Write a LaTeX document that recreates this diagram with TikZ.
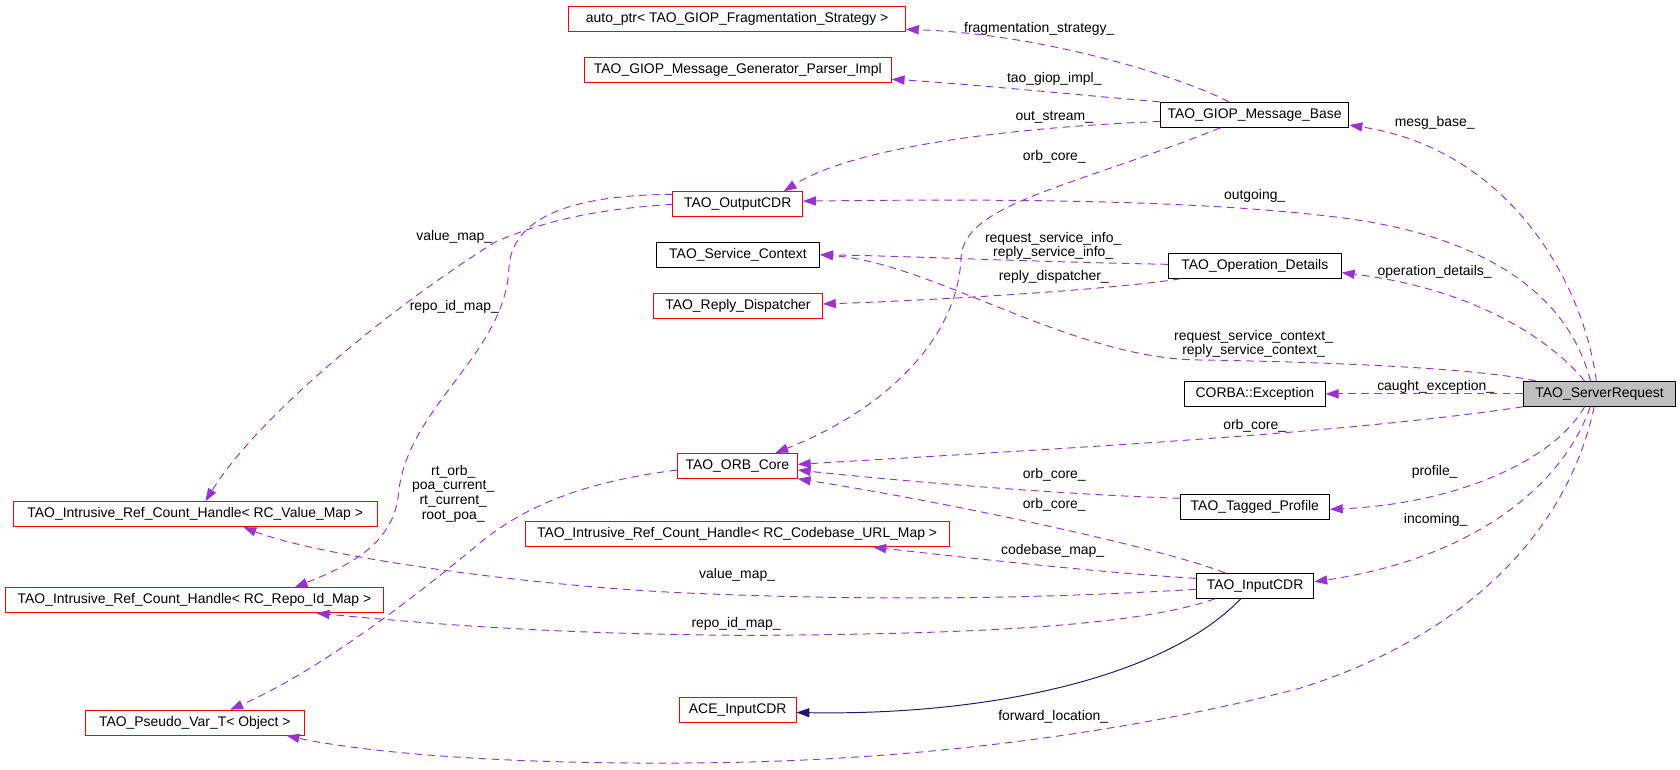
\documentclass[tikz,border=0pt]{standalone}
\usepackage{fontspec}
\setmainfont{Liberation Sans}
\usetikzlibrary{arrows.meta,positioning}

\definecolor{edgeuse}{HTML}{9A32CD}
\definecolor{edgeinh}{HTML}{191970}
\definecolor{fillcur}{HTML}{BFBFBF}

\tikzset{
  cls/.style={draw=black, line width=0.9pt, inner xsep=4pt, minimum height=23.3pt, font=\fontsize{13}{13.7}\selectfont},
  clsred/.style={cls, draw=red},
  clscur/.style={cls, fill=fillcur},
  uses/.style={draw=edgeuse, line width=0.9pt, dash pattern=on 7pt off 5pt, -{Triangle[length=12pt,width=8.5pt]}},
  inherit/.style={draw=edgeinh, line width=0.9pt, -{Triangle[length=12pt,width=8.5pt]}},
  lbl/.style={font=\fontsize{13}{13.7}\selectfont, align=center, inner sep=0pt},
}

\begin{document}
\begin{tikzpicture}[x=1pt,y=-1pt]
            \useasboundingbox (0,0) rectangle (1568,718);
            %Nodes
            \node[clsred, minimum width=314pt]   at (688,17.6)     (frag)  {auto\_ptr< TAO\_GIOP\_Fragmentation\_Strategy >};
            \node[clsred, minimum width=286.4pt] at (688.6,65.5)   (genp)  {TAO\_GIOP\_Message\_Generator\_Parser\_Impl};
            \node[cls,    minimum width=176pt]   at (1171,107.2)   (mbase) {TAO\_GIOP\_Message\_Base};
            \node[clsred, minimum width=121pt]   at (688.5,190.7)  (ocdr)  {TAO\_OutputCDR};
            \node[cls,    minimum width=152.4pt] at (688.8,237.8)  (sctx)  {TAO\_Service\_Context};
            \node[cls,    minimum width=161.3pt] at (1171.2,248.1) (opdet) {TAO\_Operation\_Details};
            \node[clsred, minimum width=157.6pt] at (688.8,285.4)  (rdisp) {TAO\_Reply\_Dispatcher};
            \node[cls,    minimum width=131.3pt] at (1171.2,367.6) (cexc)  {CORBA::Exception};
            \node[clscur, minimum width=142.1pt] at (1492.9,367.6) (sreq)  {TAO\_ServerRequest};
            \node[clsred, minimum width=111.9pt] at (688.2,434.8)  (orbc)  {TAO\_ORB\_Core};
            \node[cls,    minimum width=139.1pt] at (1171.2,473)   (tprof) {TAO\_Tagged\_Profile};
            \node[clsred, minimum width=339.5pt] at (182.2,479.9)  (hval)  {TAO\_Intrusive\_Ref\_Count\_Handle< RC\_Value\_Map >};
            \node[clsred, minimum width=396pt]   at (688,498.6)    (hurl)  {TAO\_Intrusive\_Ref\_Count\_Handle< RC\_Codebase\_URL\_Map >};
            \node[cls,    minimum width=109.8pt] at (1171.4,546.8) (icdr)  {TAO\_InputCDR};
            \node[clsred, minimum width=353pt]   at (181.5,560.3)  (hrepo) {TAO\_Intrusive\_Ref\_Count\_Handle< RC\_Repo\_Id\_Map >};
            \node[clsred, minimum width=109pt]   at (688.5,662.7)  (aicdr) {ACE\_InputCDR};
            \node[clsred, minimum width=204.4pt] at (181.8,674.5)  (pvar)  {TAO\_Pseudo\_Var\_T< Object >};

            %Labels
            \node[lbl] at (970,27)     (lfrag)  {fragmentation\_strategy\_};
            \node[lbl] at (984,74)     (lgenp)  {tao\_giop\_impl\_};
            \node[lbl] at (984,109.5)  (lout)   {out\_stream\_};
            \node[lbl] at (984,146)    (lorb1)  {orb\_core\_};
            \node[lbl] at (1339,115)   (lmesg)  {mesg\_base\_};
            \node[lbl] at (1171,183)   (logo)   {outgoing\_};
            \node[lbl] at (983,229.5)  (lsinfo) {request\_service\_info\_\\reply\_service\_info\_};
            \node[lbl] at (983.5,258.5) (lrdisp) {reply\_dispatcher\_};
            \node[lbl] at (1339,254)   (lopdet) {operation\_details\_};
            \node[lbl] at (1170,321)   (lsctx)  {request\_service\_context\_\\reply\_service\_context\_};
            \node[lbl] at (1340,361)   (lexc)   {caught\_exception\_};
            \node[lbl] at (1171,397)   (lorb2)  {orb\_core\_};
            \node[lbl] at (984,443)    (lorb3)  {orb\_core\_};
            \node[lbl] at (984,471)    (lorb4)  {orb\_core\_};
            \node[lbl] at (1339,440)   (lprof)  {profile\_};
            \node[lbl] at (982.5,514)  (lurl)   {codebase\_map\_};
            \node[lbl] at (1340,485)   (linc)   {incoming\_};
            \node[lbl] at (688,537)    (lval1)  {value\_map\_};
            \node[lbl] at (687,582)    (lrepo1) {repo\_id\_map\_};
            \node[lbl] at (983,669)    (lfwd)   {forward\_location\_};
            \node[lbl] at (423,460.8)  (lpoa)   {rt\_orb\_\\poa\_current\_\\rt\_current\_\\root\_poa\_};
            \node[lbl] at (424,221)    (lval2)  {value\_map\_};
            \node[lbl] at (424,286)    (lrepo2) {repo\_id\_map\_};

            %Lines
            \draw[uses] ([xshift=-24pt]mbase.north) .. controls (1110,75) and (980,32) .. ([yshift=-9.8pt]frag.east);
            \draw[uses] (mbase.north west) .. controls (1000,88) and (900,78) .. ([yshift=-8.5pt]genp.east);
            \draw[uses] ([yshift=-6.2pt]mbase.west) .. controls (960,118) and (800,135) .. ([xshift=43pt]ocdr.north);
            \draw[uses] ([xshift=-32pt]mbase.south) .. controls (1000,175) and (900,190) .. (897,240)
                        .. controls (894,320) and (820,385) .. ([xshift=-21pt]orbc.north east);
            \draw[uses] ([xshift=-3pt]sreq.north) .. controls (1478,265) and (1410,140) .. ([yshift=-9.5pt]mbase.east);
            \draw[uses] ([xshift=-8.5pt]sreq.north) .. controls (1460,260) and (1360,215) .. (1242,202)
                        .. controls (1100,185) and (900,186) .. ([yshift=3pt]ocdr.east);
            \draw[uses] ([yshift=1.4pt]opdet.west) .. controls (950,244) and (850,239) .. (sctx.east);
            \draw[uses] ([xshift=-69.5pt]opdet.south) .. controls (1040,270) and (880,280) .. ([yshift=1.7pt]rdisp.east);
            \draw[uses] ([xshift=-14pt]sreq.north) .. controls (1450,320) and (1380,270) .. ([yshift=-6.4pt]opdet.east);
            \draw[uses] ([xshift=12pt]sreq.north west) .. controls (1380,344) and (1250,338) .. (1120,336)
                        .. controls (1000,335) and (870,245) .. (sctx.east);
            \draw[uses] (sreq.west) -- (cexc.east);
            \draw[uses] (sreq.south west) .. controls (1250,405) and (1000,418) .. ([yshift=1.4pt]orbc.east);
            \draw[uses] ([yshift=8pt]tprof.west) .. controls (1000,462) and (850,450) .. ([yshift=-3.9pt]orbc.east);
            \draw[uses] ([xshift=-28pt]icdr.north) .. controls (1080,510) and (880,468) .. (orbc.south east);
            \draw[uses] ([xshift=-14pt]sreq.south) .. controls (1450,430) and (1360,470) .. ([yshift=-2.4pt]tprof.east);
            \draw[uses] ([yshift=7pt]icdr.west) .. controls (1020,534) and (880,518) .. ([xshift=127pt]hurl.south);
            \draw[uses] ([xshift=-8.7pt]sreq.south) .. controls (1460,450) and (1380,520) .. ([yshift=3.8pt]icdr.east);
            \draw[uses] ([yshift=-3.2pt]icdr.west) .. controls (950,560) and (800,560) .. (653,554)
                        .. controls (500,548) and (300,520) .. ([xshift=45pt]hval.south);
            \draw[uses] ([xshift=-37.6pt]icdr.south) .. controls (1060,585) and (900,592) .. (700,593)
                        .. controls (500,592) and (380,580) .. ([xshift=114pt]hrepo.south);
            \draw[inherit] ([xshift=-13.4pt]icdr.south) .. controls (1090,630) and (930,668) .. ([yshift=-2.3pt]aicdr.east);
            \draw[uses] ([xshift=-5pt]sreq.south) .. controls (1460,510) and (1350,600) .. (1213,642.4)
                        .. controls (1100,672) and (900,710) .. (653,712)
                        .. controls (450,714) and (330,700) .. ([xshift=-17pt]pvar.south east);
            \draw[uses] ([yshift=-3.9pt]orbc.west) .. controls (560,448) and (500,465) .. (450,505)
                        .. controls (390,555) and (300,625) .. ([xshift=33pt]pvar.north);
            \draw[uses] (ocdr.west) .. controls (560,195) and (510,205) .. (462,226)
                        .. controls (360,290) and (240,390) .. ([xshift=9.5pt]hval.north);
            \draw[uses] ([yshift=9.3pt]ocdr.west) .. controls (540,182) and (478,200) .. (475,250)
                        .. controls (472,330) and (380,380) .. (372,460)
                        .. controls (368,510) and (320,530) .. ([xshift=93.5pt]hrepo.north);
\end{tikzpicture}
\end{document}
